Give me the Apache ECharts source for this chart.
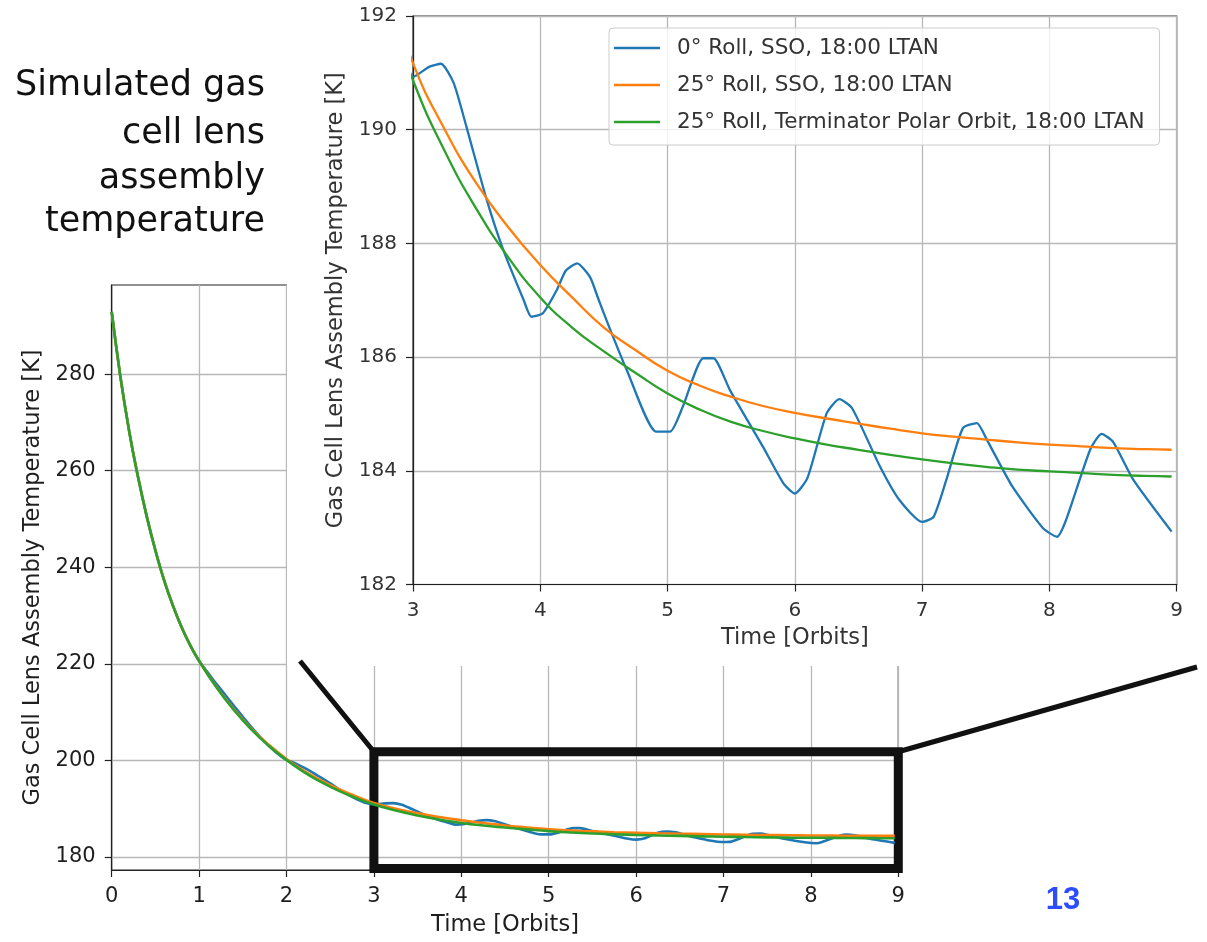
<!DOCTYPE html>
<html>
<head>
<meta charset="utf-8">
<script src="https://cdn.jsdelivr.net/npm/echarts@6/dist/echarts.min.js"></script>
<style>
html,body{margin:0;padding:0;background:#fff;}
#chart{width:1207px;height:942px;}
</style>
</head>
<body>
<div id="chart"></div>
<script>
// ---------------- data ----------------
const seriesNames = [
  '0° Roll, SSO, 18:00 LTAN',
  '25° Roll, SSO, 18:00 LTAN',
  '25° Roll, Terminator Polar Orbit, 18:00 LTAN'
];

// time grid for the smooth curves [orbits]
const smoothTime = [0,0.1,0.2,0.3,0.4,0.5,0.6,0.7,0.8,0.9,1.0,
  1.2,1.4,1.6,1.8,2.0,2.2,2.4,2.6,2.8,3.0,
  3.25,3.5,3.75,4.0,4.25,4.5,4.75,5.0,5.25,5.5,5.75,6.0,
  6.25,6.5,6.75,7.0,7.25,7.5,7.75,8.0,8.25,8.5,8.75,8.96];

// 25° Roll, SSO [K]
const orangeTemp = [292.9,279.4,268.2,258.8,250.6,243.5,237.3,232.1,227.6,223.8,220.65,
  215.2,210.55,206.55,203.2,200.3,197.85,195.8,194.05,192.55,191.17,
  190.0,189.05,188.28,187.62,187.05,186.52,186.12,185.76,185.5,185.3,185.14,185.02,
  184.92,184.83,184.74,184.66,184.6,184.55,184.5,184.46,184.43,184.4,184.38,184.37];

// 25° Roll, Terminator Polar Orbit [K]
const greenTemp = [292.9,279.4,268.2,258.8,250.6,243.5,237.3,232.1,227.6,223.8,220.6,
  215.1,210.4,206.4,203.0,200.1,197.6,195.5,193.7,192.2,190.87,
  189.62,188.6,187.75,187.05,186.52,186.1,185.72,185.36,185.08,184.86,184.7,184.57,
  184.46,184.37,184.28,184.2,184.13,184.07,184.02,183.99,183.96,183.93,183.91,183.9];

// 0° Roll, SSO (oscillating) [orbits]
const blueTime = [0,0.1,0.2,0.3,0.4,0.5,0.6,0.7,0.8,0.9,1.0,
  1.1,1.2,1.3,1.4,1.5,1.6,1.7,1.8,1.9,2.0,
  2.1,2.2,2.3,2.4,2.5,2.6,2.7,2.8,2.9,
  3.0,3.13,3.22,3.32,3.42,3.58,3.71,3.87,3.93,4.02,4.13,4.2,4.29,4.39,4.46,4.55,4.68,
  4.91,5.02,5.12,5.28,5.36,5.49,5.75,5.91,6.0,6.1,6.25,6.35,6.45,6.67,6.82,
  7.0,7.09,7.19,7.32,7.43,7.51,7.71,7.95,8.06,8.13,8.32,8.41,8.5,8.66,8.96];
// [K]
const blueTemp = [292.9,279.4,268.2,258.8,250.6,243.5,237.3,232.1,227.6,223.8,220.6,
  218.2,215.8,213.55,211.25,209.05,206.85,204.85,203.0,201.4,200.1,
  199.4,198.5,197.5,196.4,195.25,194.05,192.95,192.0,191.25,
  190.93,191.11,191.16,190.82,190.05,188.76,187.88,187.0,186.71,186.77,187.18,187.52,187.65,187.41,187.0,186.48,185.77,
  184.69,184.69,185.13,185.98,185.98,185.42,184.42,183.78,183.6,183.88,185.01,185.26,185.1,184.07,183.49,
  183.1,183.19,183.84,184.75,184.84,184.54,183.72,182.99,182.84,183.13,184.37,184.65,184.51,183.84,182.93];

// tick labels
const mainYTicks = [180,200,220,240,260,280];

// zoom window drawn on the main plot (data coordinates)
const zoomT = [3, 9];
const zoomK = [177.6, 201.8];

const titleLines = ['Simulated gas', 'cell lens', 'assembly', 'temperature'];
const pageNumber = '13';

// ---------------- styles ----------------
const colors = ['#1f77b4', '#ff7f0e', '#2ca02c'];
const smoothness = [0.2, 0.5, 0.5];
const FONT = 'DejaVu Sans';
const ink = '#1e1e1e';
const insetInk = '#333333';
const gridColor = '#b8b8b8';

function zip(xs, ys){ return xs.map((x,i)=>[x, ys[i]]); }
const curves = [zip(blueTime, blueTemp), zip(smoothTime, orangeTemp), zip(smoothTime, greenTemp)];

const chart = echarts.init(document.getElementById('chart'), null, {renderer:'canvas', width:1207, height:942});

function axisCommon(color, labelSize){
  return {
    axisLine:{show:true, onZero:false, lineStyle:{color:'#222', width:1.2}},
    axisTick:{show:true, inside:false, length:7, lineStyle:{color:'#222', width:1.2}},
    axisLabel:{color:color, fontSize:labelSize, fontFamily:FONT, margin:16},
    splitLine:{show:true, lineStyle:{color:gridColor, width:1.3}},
    nameTextStyle:{fontSize:22.5, fontFamily:FONT, color:color},
    nameLocation:'middle'
  };
}

const mainX = Object.assign(axisCommon(ink, 21), {
  type:'value', gridIndex:0, min:0, max:9, interval:1,
  name:'Time [Orbits]', nameGap:44, z:0
});
const mainY = Object.assign(axisCommon(ink, 21), {
  type:'value', gridIndex:0, min:177.31, max:298.47,
  name:'Gas Cell Lens Assembly Temperature [K]', nameGap:67, z:0
});
mainY.axisTick = Object.assign({}, mainY.axisTick, {customValues: mainYTicks});
mainY.axisLabel = Object.assign({}, mainY.axisLabel, {customValues: mainYTicks});

const insetX = Object.assign(axisCommon(insetInk, 20), {
  type:'value', gridIndex:1, min:3, max:9, interval:1,
  name:'Time [Orbits]', nameGap:42, z:4
});
const insetY = Object.assign(axisCommon(insetInk, 20), {
  type:'value', gridIndex:1, min:182, max:192, interval:2,
  name:'Gas Cell Lens Assembly Temperature [K]', nameGap:64, z:4
});

const series = [];
curves.forEach((d, i) => {
  series.push({
    type:'line', name:seriesNames[i], xAxisIndex:0, yAxisIndex:0,
    data:d, symbol:'none', showSymbol:false, silent:true, z:2, smooth:smoothness[i],
    lineStyle:{color:colors[i], width:2.6}, itemStyle:{color:colors[i]}
  });
});
curves.forEach((d, i) => {
  series.push({
    type:'line', name:seriesNames[i], xAxisIndex:1, yAxisIndex:1,
    data:d, symbol:'none', showSymbol:false, silent:true, z:5, clip:true, smooth:smoothness[i],
    lineStyle:{color:colors[i], width:2.3}, itemStyle:{color:colors[i]}
  });
});
// zoom-window frame on the main plot
series.push({
  type:'line', xAxisIndex:0, yAxisIndex:0, data:[], silent:true, z:3, clip:false,
  markArea:{silent:true,
    itemStyle:{color:'rgba(0,0,0,0)', borderColor:'#111', borderWidth:9},
    data:[[{coord:[zoomT[0], zoomK[1]]}, {coord:[zoomT[1], zoomK[0]]}]]}
});

const titleCenters = [86, 134, 179, 222];
const graphics = [
  {id:'cover', type:'rect', shape:{x:287, y:0, width:920, height:666}, style:{fill:'#fff'}, z:3, silent:true}
];
titleLines.forEach((t, i) => {
  graphics.push({id:'title'+i, type:'text', x:265, y:titleCenters[i], z:8, silent:true,
    style:{text:t, font:'35px "DejaVu Sans"', fill:'#111', align:'right', verticalAlign:'middle'}});
});
graphics.push({id:'page', type:'text', x:1063, y:900, z:8, silent:true,
  style:{text:pageNumber, font:'bold 31px "Liberation Sans"', fill:'#2b4cff', align:'center', verticalAlign:'middle'}});

const option = {
  animation:false,
  backgroundColor:'#ffffff',
  textStyle:{fontFamily:FONT},
  grid:[
    {left:111.7, top:285, width:786.6, height:585.7, show:true, borderColor:'#222', borderWidth:1.2, backgroundColor:'rgba(0,0,0,0)', z:0},
    {left:413, top:16, width:763.7, height:568.5, show:true, borderColor:'#222', borderWidth:1.2, backgroundColor:'rgba(0,0,0,0)', z:4}
  ],
  xAxis:[mainX, insetX],
  yAxis:[mainY, insetY],
  legend:{
    data:seriesNames.map(n => ({name:n, icon:'rect'})),
    orient:'vertical', left:609, top:28, z:9,
    itemWidth:46, itemHeight:2.6, itemGap:15,
    padding:[9,15,12,5],
    backgroundColor:'rgba(255,255,255,0.8)', borderColor:'#cccccc', borderWidth:1, borderRadius:4,
    textStyle:{fontSize:21.5, fontFamily:FONT, color:'#333', padding:[0,0,0,12]},
    selectedMode:false
  },
  series:series,
  graphic:graphics
};
chart.setOption(option);

// connector lines between the inset and the zoom window
const cornerL = chart.convertToPixel({gridIndex:0}, [zoomT[0], zoomK[1]]);
const cornerR = chart.convertToPixel({gridIndex:0}, [zoomT[1], zoomK[1]]);
chart.setOption({graphic:[
  {id:'connL', type:'line', z:8, silent:true, shape:{x1:300, y1:661, x2:cornerL[0], y2:cornerL[1]}, style:{stroke:'#111', lineWidth:5}},
  {id:'connR', type:'line', z:8, silent:true, shape:{x1:cornerR[0], y1:cornerR[1], x2:1197, y2:667}, style:{stroke:'#111', lineWidth:5}}
]});
</script>
</body>
</html>
